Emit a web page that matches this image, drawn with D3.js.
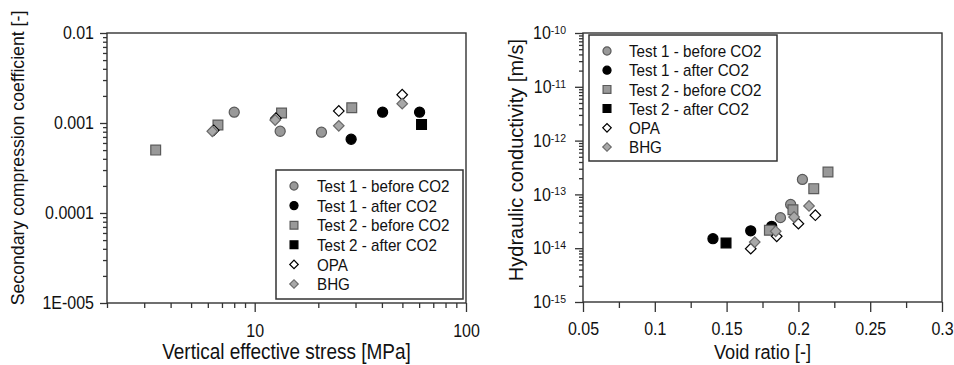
<!DOCTYPE html>
<html>
<head>
<meta charset="utf-8">
<script src="https://cdn.jsdelivr.net/npm/d3@7"></script>
<style>
  body { margin: 0; background: #fff; }
  svg { display: block; font-family: "Liberation Sans", Arial, sans-serif; }
</style>
</head>
<body>
<svg id="chart" width="954" height="365"></svg>
<script>
// Series names (legend order)
const seriesNames = ["Test 1 - before CO2", "Test 1 - after CO2", "Test 2 - before CO2", "Test 2 - after CO2", "OPA", "BHG"];

// Left chart: vertical effective stress [MPa] vs secondary compression coefficient [-]
const t1BeforeStress = [8.0, 13.2, 20.7];
const t1BeforeCoef = [0.00132, 0.00081, 0.00079];
const t1AfterStress = [28.6, 40.3, 60.3];
const t1AfterCoef = [0.00066, 0.00132, 0.00132];
const t2BeforeStress = [3.4, 6.7, 13.4, 28.8];
const t2BeforeCoef = [0.0005, 0.00095, 0.00129, 0.00148];
const t2AfterStress = [61.6];
const t2AfterCoef = [0.00096];
const opaStress = [6.4, 12.6, 25.0, 49.9];
const opaCoef = [0.00083, 0.00113, 0.00136, 0.00206];
const bhgStress = [6.3, 12.5, 25.0, 49.9];
const bhgCoef = [0.00081, 0.00108, 0.00093, 0.00164];

// Right chart: void ratio [-] vs hydraulic conductivity [m/s]
const t1BeforeVoid = [0.2028, 0.1946, 0.1875];
const t1BeforeK = [1.9e-13, 6.5e-14, 3.7e-14];
const t1AfterVoid = [0.1405, 0.1668, 0.1814];
const t1AfterK = [1.5e-14, 2.1e-14, 2.55e-14];
const t2BeforeVoid = [0.2206, 0.2107, 0.1962, 0.1798];
const t2BeforeK = [2.6e-13, 1.28e-13, 5.2e-14, 2.15e-14];
const t2AfterVoid = [0.1496];
const t2AfterK = [1.25e-14];
const opaVoid = [0.1668, 0.1849, 0.2, 0.2118];
const opaK = [9.8e-15, 1.66e-14, 2.86e-14, 4.1e-14];
const bhgVoid = [0.1696, 0.1842, 0.197, 0.2074];
const bhgK = [1.3e-14, 2.06e-14, 3.8e-14, 6.1e-14];

// Tick values and labels
const leftXTicks = [10, 100];
const leftXLabels = ["10", "100"];
const leftYTicks = [1e-5, 1e-4, 1e-3, 1e-2];
const leftYLabels = ["1E-005", "0.0001", "0.001", "0.01"];
const rightXTicks = [0.05, 0.1, 0.15, 0.2, 0.25, 0.3];
const rightXLabels = ["0.05", "0.1", "0.15", "0.2", "0.25", "0.3"];
const rightYExp = [-15, -14, -13, -12, -11, -10];

// the source picture's lettering is a bit taller than plain Arial
const STRETCH = 1.12;

// marker look for each series
const markerStyle = [
    { type: "circle",  fill: "#999", stroke: "#5a5a5a" },
    { type: "circle",  fill: "#000", stroke: "#000" },
    { type: "square",  fill: "#999", stroke: "#5a5a5a" },
    { type: "square",  fill: "#000", stroke: "#000" },
    { type: "diamond", fill: "#fff", stroke: "#000" },
    { type: "diamond", fill: "#a8a8a8", stroke: "#6a6a6a" }
];

function zip(xs, ys) {
    return xs.map((x, i) => ({ x: x, y: ys[i] }));
}

// symbol path for a marker type, s = scale factor
function symbolPath(type, s) {
    if (type === "circle") return d3.symbol().type(d3.symbolCircle).size(80 * s * s)();
    if (type === "square") return d3.symbol().type(d3.symbolSquare).size(96 * s * s)();
    return d3.symbol().type(d3.symbolSquare).size(56 * s * s)(); // rotated later
}

function drawMarkers(g, data, style, x, y) {
    g.selectAll(null)
        .data(data)
        .enter()
        .append("path")
        .attr("d", symbolPath(style.type, 1))
        .attr("transform", d => `translate(${x(d.x)},${y(d.y)})` + (style.type === "diamond" ? " rotate(45)" : ""))
        .attr("fill", style.fill)
        .attr("stroke", style.stroke)
        .attr("stroke-width", 1.2);
}

// horizontal text, slightly stretched vertically
function addText(svg, x, y, str, size, anchor) {
    return svg.append("text")
        .attr("transform", `translate(${x},${y}) scale(1,${STRETCH})`)
        .attr("text-anchor", anchor || "start")
        .attr("font-size", size)
        .attr("fill", "#111")
        .text(str);
}

function drawLegend(svg, box, rowY0, rowStep, symX, textX) {
    svg.append("rect")
        .attr("x", box.x).attr("y", box.y)
        .attr("width", box.w).attr("height", box.h)
        .attr("fill", "#fff")
        .attr("stroke", "#333")
        .attr("stroke-width", 1.5);
    seriesNames.forEach((name, i) => {
        const st = markerStyle[i];
        const cy = rowY0 + i * rowStep;
        svg.append("path")
            .attr("d", symbolPath(st.type, 0.8))
            .attr("transform", `translate(${symX},${cy})` + (st.type === "diamond" ? " rotate(45)" : ""))
            .attr("fill", st.fill)
            .attr("stroke", st.stroke)
            .attr("stroke-width", 1.2);
        addText(svg, textX, cy, name, 15.2).attr("dy", "0.36em");
    });
}

function styleAxis(g) {
    g.select(".domain").remove();
    g.selectAll(".tick line").attr("stroke", "#333").attr("stroke-width", 1.3);
    g.selectAll(".tick text").attr("fill", "#111");
}

// minor log ticks (2..9 per decade) between lo and hi
function logMinor(lo, hi) {
    const out = [];
    for (let e = Math.floor(Math.log10(lo)); e < Math.ceil(Math.log10(hi)); e++) {
        for (let m = 2; m <= 9; m++) {
            const v = m * Math.pow(10, e);
            if (v >= lo && v <= hi) out.push(v);
        }
    }
    return out;
}

function drawFrame(svg, x0, x1, y0, y1) {
    svg.append("rect")
        .attr("x", x0).attr("y", y0)
        .attr("width", x1 - x0).attr("height", y1 - y0)
        .attr("fill", "none")
        .attr("stroke", "#333")
        .attr("stroke-width", 1.4);
}

function drawLeftChart(svg) {
    const L = 107, R = 466, T = 33, B = 303;
    const x = d3.scaleLog().domain([2, 100]).range([L, R]);
    const y = d3.scaleLog().domain([1e-5, 1e-2]).range([B, T]);

    // minor ticks
    svg.append("g").attr("transform", `translate(0,${B})`)
        .call(d3.axisBottom(x).tickValues(logMinor(2, 100).filter(v => v !== 10)).tickSize(5).tickFormat(""))
        .call(styleAxis);
    svg.append("g").attr("transform", `translate(${L},0)`)
        .call(d3.axisLeft(y).tickValues(logMinor(1e-5, 1e-2)).tickSize(4).tickFormat(""))
        .call(styleAxis);

    // major ticks with labels
    svg.append("g").attr("transform", `translate(0,${B})`)
        .call(d3.axisBottom(x).tickValues(leftXTicks).tickSize(9)
            .tickFormat((d, i) => leftXLabels[i]))
        .call(styleAxis)
        .selectAll("text")
        .attr("font-size", 16)
        .attr("y", 21 / STRETCH)
        .attr("transform", `scale(1,${STRETCH})`);
    svg.append("g").attr("transform", `translate(${L},0)`)
        .call(d3.axisLeft(y).tickValues(leftYTicks).tickSize(7).tickPadding(6)
            .tickFormat((d, i) => leftYLabels[i]))
        .call(styleAxis)
        .selectAll("text")
        .attr("font-size", 16)
        .attr("transform", `scale(1,${STRETCH})`);

    drawFrame(svg, L, R, T, B);

    const series = [
        zip(t1BeforeStress, t1BeforeCoef), zip(t1AfterStress, t1AfterCoef),
        zip(t2BeforeStress, t2BeforeCoef), zip(t2AfterStress, t2AfterCoef),
        zip(opaStress, opaCoef), zip(bhgStress, bhgCoef)
    ];
    const g = svg.append("g");
    series.forEach((s, i) => drawMarkers(g, s, markerStyle[i], x, y));

    drawLegend(svg, { x: 276, y: 170, w: 187, h: 129 }, 186, 19.6, 294, 317);

    // axis titles
    addText(svg, (L + R) / 2, 359, "Vertical effective stress [MPa]", 19, "middle");
    svg.append("text")
        .attr("transform", "translate(24,158) rotate(-90)")
        .attr("text-anchor", "middle")
        .attr("font-size", 17.7)
        .attr("fill", "#111")
        .text("Secondary compression coefficient [-]");
}

function drawRightChart(svg) {
    const L = 583, R = 942, T = 33, B = 302;
    const x = d3.scaleLinear().domain([0.05, 0.3]).range([L, R]);
    const y = d3.scaleLog().domain([1e-15, 1e-10]).range([B, T]);

    // minor ticks
    svg.append("g").attr("transform", `translate(0,${B})`)
        .call(d3.axisBottom(x).tickValues([0.075, 0.125, 0.175, 0.225, 0.275]).tickSize(6).tickFormat(""))
        .call(styleAxis);
    svg.append("g").attr("transform", `translate(${L},0)`)
        .call(d3.axisLeft(y).tickValues(logMinor(1e-15, 1e-10)).tickSize(4).tickFormat(""))
        .call(styleAxis);

    // major ticks with labels
    svg.append("g").attr("transform", `translate(0,${B})`)
        .call(d3.axisBottom(x).tickValues(rightXTicks).tickSize(10)
            .tickFormat((d, i) => rightXLabels[i]))
        .call(styleAxis)
        .selectAll("text")
        .attr("font-size", 16)
        .attr("y", 20 / STRETCH)
        .attr("transform", `scale(1,${STRETCH})`);

    const yAxis = svg.append("g").attr("transform", `translate(${L},0)`)
        .call(d3.axisLeft(y).tickValues(rightYExp.map(e => Math.pow(10, e))).tickSize(8).tickPadding(9)
            .tickFormat(""))
        .call(styleAxis);
    // superscript labels 10^n
    yAxis.selectAll(".tick text")
        .attr("font-size", 16)
        .attr("transform", `scale(1,${STRETCH})`)
        .each(function(d, i) {
            const t = d3.select(this);
            t.append("tspan").text("10");
            t.append("tspan").attr("dy", "-0.45em").attr("font-size", 10.5).text(String(rightYExp[i]));
        });

    drawFrame(svg, L, R, T, B);

    const series = [
        zip(t1BeforeVoid, t1BeforeK), zip(t1AfterVoid, t1AfterK),
        zip(t2BeforeVoid, t2BeforeK), zip(t2AfterVoid, t2AfterK),
        zip(opaVoid, opaK), zip(bhgVoid, bhgK)
    ];
    const g = svg.append("g");
    series.forEach((s, i) => drawMarkers(g, s, markerStyle[i], x, y));

    drawLegend(svg, { x: 589, y: 35, w: 188, h: 126 }, 51, 19.2, 607, 629);

    addText(svg, (L + R) / 2, 359, "Void ratio [-]", 18.2, "middle");
    svg.append("text")
        .attr("transform", "translate(523,160) rotate(-90)")
        .attr("text-anchor", "middle")
        .attr("font-size", 20)
        .attr("fill", "#111")
        .text("Hydraulic conductivity [m/s]");
}

document.addEventListener('DOMContentLoaded', () => {
    const svg = d3.select("#chart");
    drawLeftChart(svg);
    drawRightChart(svg);
});
</script>
</body>
</html>
